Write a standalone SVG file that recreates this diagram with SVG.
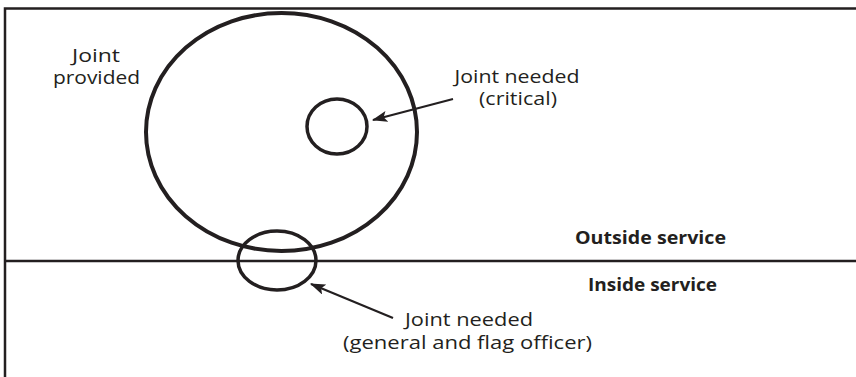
<svg xmlns="http://www.w3.org/2000/svg" width="856" height="377" viewBox="0 0 856 377">
<defs>
<style>
.ln{fill:none;stroke:#231f20;}
.t{font-family:"Open Sans","Noto Sans",sans-serif;font-size:17.5px;fill:#231f20;text-anchor:middle;}
.b{font-family:"Open Sans","Noto Sans",sans-serif;font-size:18px;font-weight:bold;fill:#231f20;text-anchor:middle;}
</style>
<marker id="ah" viewBox="0 0 14 10" refX="13" refY="5" markerWidth="7" markerHeight="5" orient="auto" markerUnits="strokeWidth">
<path d="M0,0 L14,5 L0,10 L3,5 z" fill="#231f20"/>
</marker>
</defs>
<g id="frame">
<path class="ln" stroke-width="2.5" d="M856,8.5 H5 V377"/>
<path class="ln" stroke-width="2.5" d="M5,261 H856"/>
</g>
<g id="joint-provided">
<ellipse class="ln" stroke-width="4" cx="281.5" cy="132" rx="135.5" ry="119"/>
<text class="t" x="96" y="62" textLength="48" lengthAdjust="spacingAndGlyphs">Joint</text>
<text class="t" x="96.5" y="84" textLength="87" lengthAdjust="spacingAndGlyphs">provided</text>
</g>
<g id="joint-needed-critical">
<ellipse class="ln" stroke-width="3.5" cx="337" cy="126.5" rx="30" ry="27.5"/>
<text class="t" x="517" y="83" textLength="125" lengthAdjust="spacingAndGlyphs">Joint needed</text>
<text class="t" x="518" y="105" textLength="78" lengthAdjust="spacingAndGlyphs">(critical)</text>
</g>
<g id="joint-needed-gfo">
<ellipse class="ln" stroke-width="3.5" cx="277" cy="260.5" rx="39" ry="29.5"/>
<text class="t" x="469" y="326" textLength="128" lengthAdjust="spacingAndGlyphs">Joint needed</text>
<text class="t" x="467.5" y="349" textLength="249" lengthAdjust="spacingAndGlyphs">(general and flag officer)</text>
</g>
<g id="labels">
<text class="b" x="650.5" y="244" textLength="151" lengthAdjust="spacingAndGlyphs">Outside service</text>
<text class="b" x="652.5" y="291" textLength="129" lengthAdjust="spacingAndGlyphs">Inside service</text>
</g>
<g id="connectors">
<line class="ln" stroke-width="2.2" x1="453" y1="99" x2="373" y2="120" marker-end="url(#ah)"/>
<line class="ln" stroke-width="2.2" x1="393" y1="318" x2="311" y2="284" marker-end="url(#ah)"/>
</g>
</svg>
